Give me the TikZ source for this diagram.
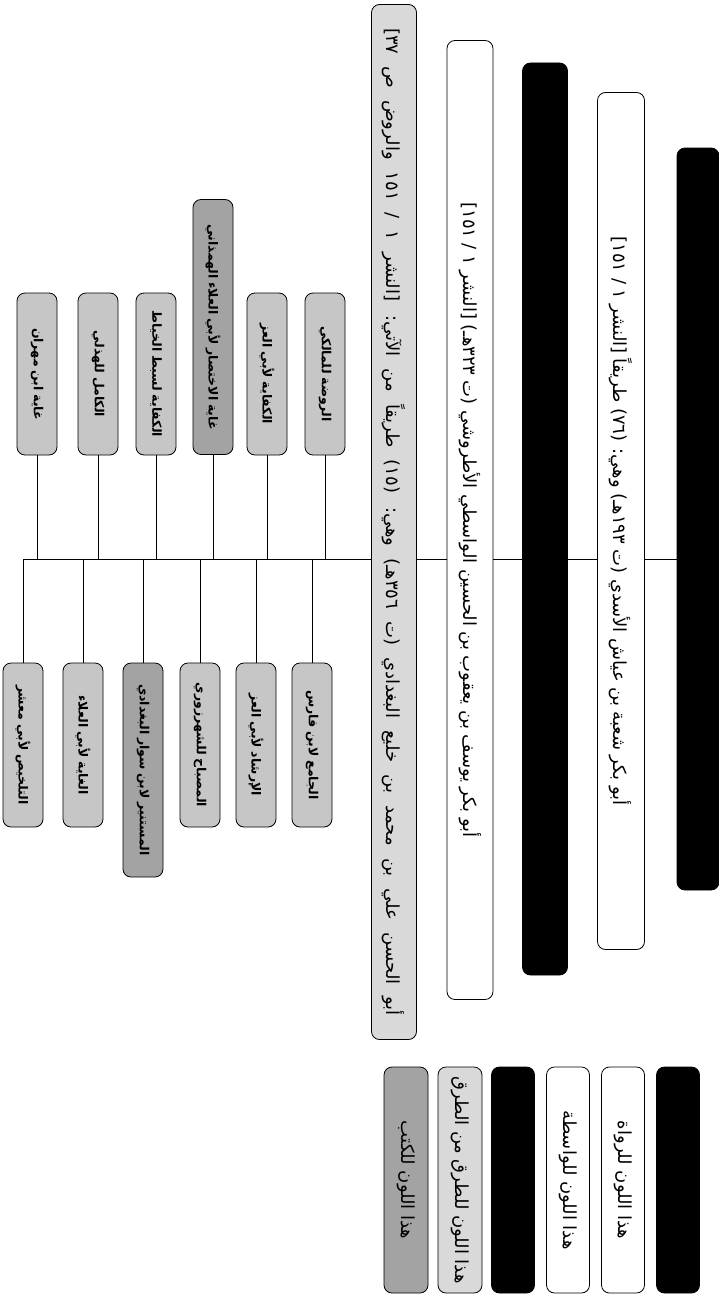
\documentclass[tikz,border=0pt]{standalone}
\usepackage{fontspec}
\usepackage{xcolor}
\usepackage{graphicx}
\usepackage{tikz}
\TeXXeTstate=1
\newfontfamily\arabicfont[Script=Arabic]{DejaVu Sans}
\newcommand{\artext}[1]{\rotatebox{-90}{\arabicfont\spaceskip=0.3em\relax\beginR #1\endR}}
\newcommand{\arwide}[1]{\rotatebox{-90}{\arabicfont\spaceskip=12pt\relax\beginR #1\endR}}

\begin{document}
\begin{tikzpicture}[
    x=1pt, y=-1pt,
    bar/.style={rectangle, rounded corners=8pt, draw, line width=0.8pt, inner sep=0pt},
    rawibox/.style={bar, fill=black},
    wasitabox/.style={bar, fill=white},
    tariqbox/.style={bar, fill=gray!45},
    kitabbox/.style={bar, fill=gray!72},
    khulaybox/.style={bar, fill=gray!30},
    link/.style={line width=0.6pt},
    mainfont/.style={font=\fontsize{18}{20}\selectfont},
    smallfont/.style={font=\fontsize{12.5}{14}\selectfont\bfseries}
]
\useasboundingbox (0,0) rectangle (719,1295);

% Narrators chain
\node[rawibox, minimum width=42pt, minimum height=742pt] (rawiA) at (698,519) {};
\node[wasitabox, mainfont, minimum width=47pt, minimum height=857pt] (shuba) at (621,521) {\artext{أبو بكر شعبة بن عياش الأسدي (ت ١٩٣هـ) وهي: (٧٦) طريقاً [النشر ١ / ١٥١]}};
\node[rawibox, minimum width=45pt, minimum height=912pt] (rawiB) at (545,519) {};
\node[wasitabox, mainfont, minimum width=46pt, minimum height=959pt] (wasiti) at (470,520) {\artext{أبو بكر يوسف بن يعقوب بن الحسين الواسطي الأطروشي (ت ٣٢٣هـ) [النشر ١ / ١٥١]}};
\node[khulaybox, mainfont, minimum width=45pt, minimum height=1035pt] (khulay) at (394,522) {\arwide{أبو الحسن علي بن محمد بن خليع البغدادي (ت ٣٥٦هـ) وهي: (١٥) طريقاً من الآتي: [النشر ١ / ١٥١ والروض ص ٣٧]}};

% Trunk
\coordinate (trunk) at (0,559);

% Upper paths
\node[tariqbox, smallfont, minimum width=40pt, minimum height=162pt] (t1) at (37,374) {\artext{غاية ابن مهران}};
\node[tariqbox, smallfont, minimum width=40pt, minimum height=162pt] (t2) at (98,374) {\artext{الكامل للهذلي}};
\node[tariqbox, smallfont, minimum width=40pt, minimum height=162pt] (t3) at (156,374) {\artext{الكفاية لسبط الخياط}};
\node[kitabbox, smallfont, minimum width=40pt, minimum height=255pt] (t4) at (213,327) {\artext{غاية الاختصار لأبي العلاء الهمذاني}};
\node[tariqbox, smallfont, minimum width=40pt, minimum height=162pt] (t5) at (267,374) {\artext{الكفاية لأبي العز}};
\node[tariqbox, smallfont, minimum width=40pt, minimum height=162pt] (t6) at (325,374) {\artext{الروضة للمالكي}};

% Lower paths
\node[tariqbox, smallfont, minimum width=40pt, minimum height=164pt] (b1) at (23,745) {\artext{التلخيص لأبي معشر}};
\node[tariqbox, smallfont, minimum width=40pt, minimum height=164pt] (b2) at (83,745) {\artext{الغاية لأبي العلاء}};
\node[kitabbox, smallfont, minimum width=40pt, minimum height=214pt] (b3) at (143,770) {\artext{المستنير لابن سوار البغدادي}};
\node[tariqbox, smallfont, minimum width=40pt, minimum height=164pt] (b4) at (200,745) {\artext{المصباح للشهرزوري}};
\node[tariqbox, smallfont, minimum width=40pt, minimum height=164pt] (b5) at (256,745) {\artext{الإرشاد لأبي العز}};
\node[tariqbox, smallfont, minimum width=40pt, minimum height=164pt] (b6) at (312,745) {\artext{الجامع لابن فارس}};

% Legend
\node[kitabbox, mainfont, minimum width=44pt, minimum height=226pt] (lgKitab) at (406,1180) {\artext{هذا اللون للكتب}};
\node[khulaybox, mainfont, minimum width=44pt, minimum height=226pt] (lgTariq) at (460,1180) {\artext{هذا اللون للطرق من الطرق}};
\node[rawibox, minimum width=43pt, minimum height=226pt] (lgBlackA) at (513,1180) {};
\node[wasitabox, mainfont, minimum width=43pt, minimum height=226pt] (lgWasita) at (568,1180) {\artext{هذا اللون للواسطة}};
\node[wasitabox, mainfont, minimum width=43pt, minimum height=226pt] (lgRawi) at (623,1180) {\artext{هذا اللون للرواة}};
\node[rawibox, minimum width=43pt, minimum height=226pt] (lgBlackB) at (678,1180) {};

% Arrows
\draw[link] (khulay.east |- trunk) -- (wasiti.west |- trunk);
\draw[link] (wasiti.east |- trunk) -- (rawiB.west |- trunk);
\draw[link] (rawiB.east |- trunk) -- (shuba.west |- trunk);
\draw[link] (shuba.east |- trunk) -- (rawiA.west |- trunk);
\draw[link] (khulay.west |- trunk) -- (b1.north |- trunk);
\draw[link] (t1.south) -- (t1.south |- trunk);
\draw[link] (t2.south) -- (t2.south |- trunk);
\draw[link] (t3.south) -- (t3.south |- trunk);
\draw[link] (t4.south) -- (t4.south |- trunk);
\draw[link] (t5.south) -- (t5.south |- trunk);
\draw[link] (t6.south) -- (t6.south |- trunk);
\draw[link] (b1.north) -- (b1.north |- trunk);
\draw[link] (b2.north) -- (b2.north |- trunk);
\draw[link] (b3.north) -- (b3.north |- trunk);
\draw[link] (b4.north) -- (b4.north |- trunk);
\draw[link] (b5.north) -- (b5.north |- trunk);
\draw[link] (b6.north) -- (b6.north |- trunk);

\end{tikzpicture}
\end{document}
